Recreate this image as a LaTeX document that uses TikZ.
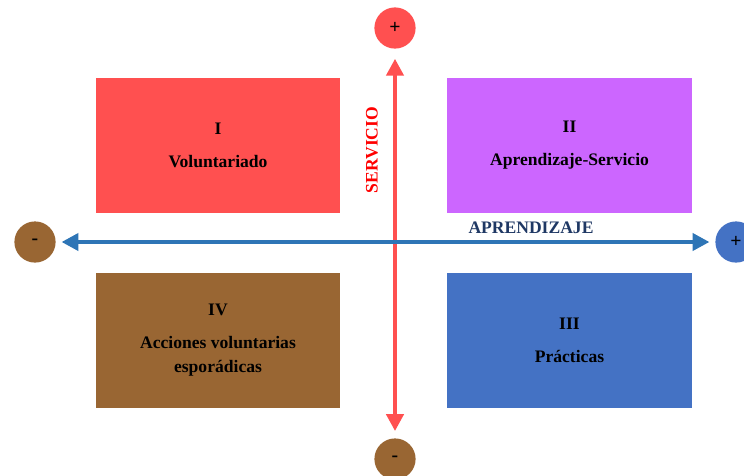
\documentclass[tikz,border=0pt]{standalone}
\usepackage{fontspec}
\setmainfont{Liberation Serif}
\usetikzlibrary{arrows.meta}
\definecolor{volred}{HTML}{FF5050}
\definecolor{apspurple}{HTML}{CC66FF}
\definecolor{accbrown}{HTML}{996633}
\definecolor{pracblue}{HTML}{4472C4}
\definecolor{axisblue}{HTML}{2E75B6}
\definecolor{navy}{HTML}{1F3864}

\begin{document}
\begin{tikzpicture}[
  x=0.025cm, y=-0.025cm,
  font=\fontsize{12.5}{17}\selectfont\bfseries,
  quadbox/.style={minimum width=6.1cm, minimum height=3.375cm, align=center, inner sep=0pt},
  signdot/.style={circle, minimum size=1.03cm, inner sep=0pt, font=\fontsize{14}{16}\selectfont\bfseries},
  arr/.style={{Triangle[length=12pt,width=12pt]}-{Triangle[length=12pt,width=12pt]}, line width=3.5pt}
]
  \useasboundingbox (0,0) rectangle (744,475);

  % quadrants
  \node[quadbox, fill=volred] (volunt) at (218,145.5) {I\\[6.5pt]Voluntariado};
  \node[quadbox, fill=apspurple] (aps) at (569.5,145.5) {II\\[6.5pt]Aprendizaje-Servicio};
  \node[quadbox, fill=accbrown] (acciones) at (218,340.5) {IV\\[6.5pt]Acciones voluntarias\\esporádicas};
  \node[quadbox, fill=pracblue] (practicas) at (569.5,340.5) {III\\[6.5pt]Prácticas};

  % axis ends
  \node[signdot, fill=volred] (servmas) at (395,28) {+};
  \node[signdot, fill=accbrown] (servmenos) at (395,459) {-};
  \node[signdot, fill=accbrown] (aprmenos) at (35,242) {-};
  \node[signdot, fill=pracblue] (aprmas) at (736,242) {+};

  % axes
  \draw[arr, color=volred, shorten <=5pt, shorten >=7pt] (servmenos) -- (servmas);
  \draw[arr, color=axisblue, shorten <=4pt, shorten >=4pt] (aprmenos) -- (aprmas);

  % axis labels
  \node[rotate=90, text=red] (servicio) at (372,150) {SERVICIO};
  \node[text=navy] (aprendizaje) at (531,228) {APRENDIZAJE};
\end{tikzpicture}
\end{document}
